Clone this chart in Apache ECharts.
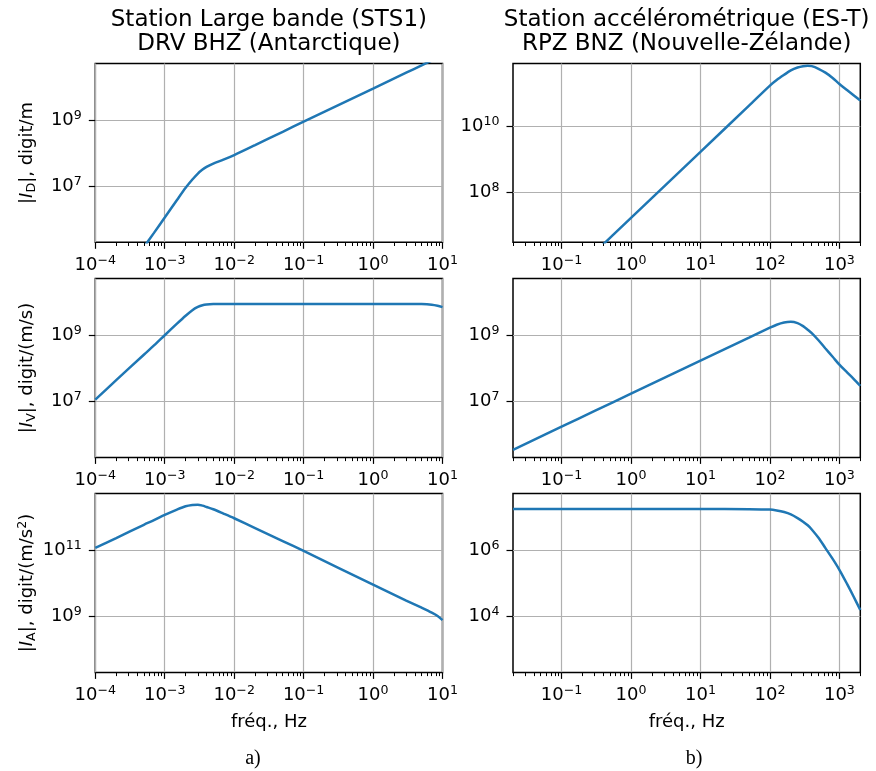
<!DOCTYPE html>
<html>
<head>
<meta charset="utf-8">
<script src="https://cdn.jsdelivr.net/npm/echarts@6/dist/echarts.min.js"></script>
<style>
  html, body { margin: 0; padding: 0; background: #fff; }
  #chart { width: 876px; height: 771px; }
</style>
</head>
<body>
<div id="chart"></div>
<script>
// ---- STS1 broadband station, DRV BHZ (frequencies in Hz) ----
const freqSTS1 = [1e-4, 2e-4, 5e-4, 7e-4, 1e-3, 1.5e-3, 2e-3, 2.5e-3, 3e-3, 3.5e-3, 4e-3, 5e-3, 7e-3,
                  1e-2, 2e-2, 5e-2, 1e-1, 1, 3, 5, 7, 8.5, 10];
// |I_D|, digit/m
const dispSTS1 = [1.1e3, 8.9e3, 1.41e5, 3.85e5, 1.12e6, 3.8e6, 8.9e6, 1.58e7, 2.4e7, 3.16e7, 3.8e7, 4.8e7, 6.3e7,
                  8.7e7, 1.74e8, 4.4e8, 8.9e8, 8.9e9, 2.7e10, 4.5e10, 6.3e10, 7.6e10, 8.9e10];
// |I_V|, digit/(m/s)
const velSTS1  = [1.12e7, 4.37e7, 2.57e8, 4.9e8, 1.0e9, 2.24e9, 3.9e9, 5.75e9, 7.2e9, 8.1e9, 8.5e9, 8.8e9, 8.9e9,
                  8.9e9, 8.9e9, 8.9e9, 8.9e9, 8.9e9, 8.9e9, 8.8e9, 8.4e9, 7.8e9, 7.1e9];
// |I_A|, digit/(m/s^2)
const accSTS1  = [1.17e11, 2.34e11, 5.9e11, 8.1e11, 1.17e12, 1.7e12, 2.14e12, 2.34e12, 2.4e12, 2.24e12, 2.04e12, 1.74e12, 1.29e12,
                  9.3e11, 4.7e11, 1.9e11, 9.5e10, 9.1e9, 3.0e9, 1.82e9, 1.29e9, 1.02e9, 7.6e8];

// ---- ES-T accelerometric station, RPZ BNZ (frequencies in Hz) ----
const freqEST = [0.02, 0.05, 0.1, 0.3, 1, 10, 50, 100, 125, 160, 200, 250, 300, 350, 400, 500, 630, 800, 1000, 1300, 1600, 2000];
const dispEST = [6.6e3, 4.2e4, 1.66e5, 1.48e6, 1.66e7, 1.66e9, 4.2e10, 1.7e11, 2.5e11, 3.6e11, 4.9e11, 6.0e11, 6.6e11, 6.8e11,
                 6.6e11, 5.5e11, 4.2e11, 2.9e11, 1.9e11, 1.23e11, 8.7e10, 6.0e10];
const velEST  = [3.4e5, 8.5e5, 1.7e6, 5.1e6, 1.7e7, 1.7e8, 8.5e8, 1.7e9, 2.1e9, 2.45e9, 2.57e9, 2.34e9, 1.9e9, 1.48e9,
                 1.17e9, 7.1e8, 4.0e8, 2.24e8, 1.29e8, 7.4e7, 4.8e7, 2.95e7];
const accEST  = [1.78e7, 1.78e7, 1.78e7, 1.78e7, 1.78e7, 1.78e7, 1.77e7, 1.72e7, 1.62e7, 1.45e7, 1.23e7, 9.5e6, 7.4e6, 5.75e6,
                 4.3e6, 2.4e6, 1.17e6, 5.5e5, 2.57e5, 9.3e4, 4.0e4, 1.55e4];

// Axis limits (decades, log10) and labelled decades
const xRangeSTS1 = [-4, 1];
const xRangeEST = [Math.log10(0.02), Math.log10(2000)];
const xTicksSTS1 = [-4, -3, -2, -1, 0, 1];
const xTicksEST = [-1, 0, 1, 2, 3];

const titlesText = ['Station Large bande (STS1)\nDRV BHZ (Antarctique)',
                    'Station accélérométrique (ES-T)\nRPZ BNZ (Nouvelle-Zélande)'];
const panelLetters = ['a)', 'b)'];
const yNames = ['{t||}{it|I}{sub|D}{t||, digit/m}',
                '{t||}{it|I}{sub|V}{t||, digit/(m/s)}',
                '{t||}{it|I}{sub|A}{t||, digit/(m/s}{sup|2}{t|)}'];
const xName = 'fréq., Hz';

const panels = [
  { col: 0, row: 0, freq: freqSTS1, mag: dispSTS1, y: [5.30, 10.71],  yTicks: [7, 9] },
  { col: 0, row: 1, freq: freqSTS1, mag: velSTS1,  y: [5.30, 10.715], yTicks: [7, 9] },
  { col: 0, row: 2, freq: freqSTS1, mag: accSTS1,  y: [7.30, 12.715], yTicks: [9, 11] },
  { col: 1, row: 0, freq: freqEST,  mag: dispEST,  y: [6.48, 11.90],  yTicks: [8, 10] },
  { col: 1, row: 1, freq: freqEST,  mag: velEST,   y: [5.30, 10.72],  yTicks: [7, 9] },
  { col: 1, row: 2, freq: freqEST,  mag: accEST,   y: [2.30, 7.72],   yTicks: [4, 6] }
];

// ---- layout / style ----
const FONT = 'DejaVu Sans';
const colLeft = [95.3, 513];
const colWidth = [347.2, 347.3];
const rowTop = [63.5, 278.6, 493.6];
const rowHeight = 178.8;
const LINE = '#1f77b4';
const GRIDC = '#b0b0b0';

const powLabel = v => {
  const n = Math.round(v);
  return '{b|10}{s|' + (n < 0 ? '\u2212' + (-n) : String(n)) + '}';
};
const tickRich = {
  b: { fontSize: 18, fontFamily: FONT, color: '#000', lineHeight: 22 },
  s: { fontSize: 12.6, fontFamily: FONT, color: '#000', lineHeight: 15, verticalAlign: 'top' }
};
const nameRich = {
  t: { fontSize: 18, fontFamily: FONT, color: '#000', lineHeight: 22 },
  it: { fontSize: 18, fontFamily: FONT, fontStyle: 'italic', color: '#000', lineHeight: 22 },
  sub: { fontSize: 12.6, fontFamily: FONT, color: '#000', lineHeight: 14, verticalAlign: 'bottom' },
  sup: { fontSize: 12.6, fontFamily: FONT, color: '#000', lineHeight: 15, verticalAlign: 'top' }
};

// minor ticks at 2..9 x 10^n, expressed in decades
function minorTicks(lo, hi) {
  const out = [];
  for (let n = Math.floor(lo); n <= Math.ceil(hi); n++) {
    for (let k = 2; k <= 9; k++) {
      const v = n + Math.log10(k);
      if (v >= lo - 1e-9 && v <= hi + 1e-9) out.push(v);
    }
  }
  return out;
}

const grids = [], xAxes = [], minorAxes = [], yAxes = [], series = [];
panels.forEach((p, i) => {
  const xr = p.col === 0 ? xRangeSTS1 : xRangeEST;
  const xt = p.col === 0 ? xTicksSTS1 : xTicksEST;
  grids.push({
    left: colLeft[p.col], top: rowTop[p.row], width: colWidth[p.col], height: rowHeight,
    show: true, borderColor: '#000', borderWidth: 1.5, backgroundColor: 'transparent'
  });
  xAxes.push({
    type: 'value', gridIndex: i, min: xr[0], max: xr[1], position: 'bottom',
    axisLine: { show: false, onZero: false },
    axisTick: { show: true, customValues: xt, length: 6.5, lineStyle: { color: '#000', width: 1.2 } },
    axisLabel: { show: true, customValues: xt, margin: 12, formatter: powLabel, rich: tickRich },
    splitLine: { show: true, lineStyle: { color: GRIDC, width: 1.2 } },
    name: p.row === 2 ? xName : '', nameLocation: 'middle', nameGap: 39,
    nameTextStyle: { fontSize: 18, fontFamily: FONT, color: '#000', lineHeight: 22 }
  });
  minorAxes.push({
    type: 'value', gridIndex: i, min: xr[0], max: xr[1], position: 'bottom', offset: 0,
    axisLine: { show: false, onZero: false },
    axisTick: { show: true, customValues: minorTicks(xr[0], xr[1]), length: 3.7, lineStyle: { color: '#000', width: 1 } },
    axisLabel: { show: false },
    splitLine: { show: false }
  });
  yAxes.push({
    type: 'value', gridIndex: i, min: p.y[0], max: p.y[1], position: 'left',
    axisLine: { show: false, onZero: false },
    axisTick: { show: true, customValues: p.yTicks, length: 6.5, lineStyle: { color: '#000', width: 1.2 } },
    axisLabel: { show: true, customValues: p.yTicks, margin: 13.5, formatter: powLabel, rich: tickRich },
    splitLine: { show: true, lineStyle: { color: GRIDC, width: 1.2 } },
    name: p.col === 0 ? yNames[p.row] : '', nameLocation: 'middle', nameRotate: 90, nameGap: 57,
    nameTextStyle: { fontSize: 18, fontFamily: FONT, color: '#000', lineHeight: 22, rich: nameRich }
  });
  series.push({
    type: 'line', xAxisIndex: i, yAxisIndex: i,
    data: p.freq.map((f, j) => [Math.log10(f), Math.log10(p.mag[j])]),
    showSymbol: false, symbol: 'none', clip: true, smooth: 0.3,
    lineStyle: { color: LINE, width: 2.5 }
  });
});

const chart = echarts.init(document.getElementById('chart'), null, { renderer: 'canvas' });
chart.setOption({
  animation: false,
  backgroundColor: '#fff',
  title: titlesText.map((t, c) => ({
    text: t, left: colLeft[c] + colWidth[c] / 2, top: 8, textAlign: 'center', padding: 0,
    textStyle: { fontSize: 23, lineHeight: 24, fontWeight: 'normal', fontFamily: FONT, color: '#000' }
  })),
  grid: grids,
  xAxis: xAxes.concat(minorAxes),
  yAxis: yAxes,
  series: series,
  graphic: panelLetters.map((s, c) => ({
    type: 'text', x: c === 0 ? 253 : 694, y: 759,
    style: { text: s, font: '20px "Liberation Serif", "Times New Roman", serif', fill: '#000',
             textAlign: 'center', textVerticalAlign: 'middle' }
  }))
});
</script>
</body>
</html>
